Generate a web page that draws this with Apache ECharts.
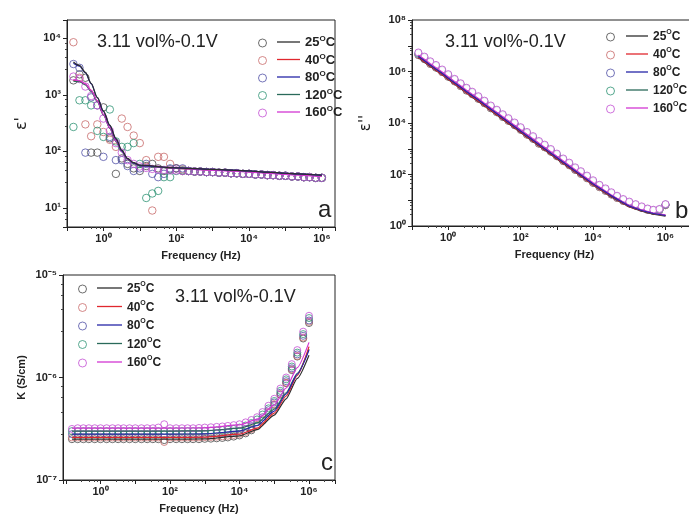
<!DOCTYPE html>
<html>
<head>
<meta charset="utf-8">
<script src="https://cdn.jsdelivr.net/npm/echarts@6/dist/echarts.min.js"></script>
<style>html,body{margin:0;padding:0;background:#fff}#c{width:689px;height:517px}</style>
</head>
<body>
<div id="c"></div>
<script>
// ---------- data ----------
const temps = ['25', '40', '80', '120', '160'];
const freq = [0.15,0.22,0.32,0.46,0.68,1,1.5,2.2,3.2,4.6,6.8,10,15,22,32,46,68,100,150,220,320,460,680,
  1e3,1.5e3,2.2e3,3.2e3,4.6e3,6.8e3,1e4,1.5e4,2.2e4,3.2e4,4.6e4,6.8e4,1e5,1.5e5,2.2e5,3.2e5,4.6e5,6.8e5,1e6];
const fitFreq = [0.15,0.22,0.32,0.46,0.68,1,1.5,2.2,3.2,4.6,6.8,10,100,1e3,1e4,3.2e4,1e5,2.2e5,4.6e5,1e6];

// panel a: real permittivity (points)
const epsR25  = [1800,2300,2000,95,95,600,170,40,75,60,50,45,55,60,50,45,48,50,45,45,44,44,43,43,42,42,41,41,40,40,39,39,38,38,37,37,36,36,35,35,34,34];
const epsR40  = [8500,2000,300,185,300,220,160,120,380,270,190,140,70,9,80,80,60,50,48,45,44,44,43,43,42,42,41,41,40,40,39,39,38,38,37,37,36,36,35,35,34,34];
const epsR80  = [3500,3000,95,900,650,80,180,70,70,55,45,50,60,40,35,40,50,50,50,45,44,44,43,43,42,42,41,41,40,40,39,39,38,38,37,37,36,36,35,35,34,34];
const epsR120 = [270,800,800,650,230,180,550,150,120,120,140,60,15,18,20,35,35,45,46,45,44,44,43,43,42,42,41,41,40,40,39,39,38,38,37,37,36,36,35,35,34,34];
const epsR160 = [2100,1900,1400,950,650,380,230,140,95,70,60,54,51,49,48,47,46,46,45,45,44,44,43,43,42,42,41,41,40,40,39,39,38,38,37,37,36,36,35,35,34,34];
// panel a: fits
const epsRFit25  = [3800,3300,2500,1600,900,520,290,170,105,75,63,57,51,48,45,43,41,40,39,38];
const epsRFit40  = [1800,1750,1550,1200,780,450,260,155,100,73,62,56,50,47,44,42,40,39,38,37];
const epsRFit80  = [3600,3200,2450,1580,890,510,285,165,102,74,62,56,51,48,45,43,41,40,39,38];
const epsRFit120 = [1750,1700,1500,1150,760,440,255,150,98,72,61,55,50,47,44,42,40,39,38,37];
const epsRFit160 = [1850,1780,1560,1200,780,450,260,155,100,73,62,56,50,46,43,41,39,38,37,36];

// panel b: imaginary permittivity (points)
const epsI25  = [4.3e6,3.0e6,1.95e6,1.4e6,9.4e5,6.2e5,4.1e5,2.7e5,1.8e5,1.3e5,8.6e4,5.8e4,3.7e4,2.6e4,1.7e4,1.2e4,8.2e3,5.4e3,3.5e3,2.4e3,1.56e3,1.13e3,760,510,330,226,150,105,71,47,32,23,16.5,12.2,9.3,7.5,6.1,5.0,4.2,3.8,4.1,6.4];
const epsI40  = [4.5e6,3.1e6,2.0e6,1.46e6,9.7e5,6.4e5,4.2e5,2.8e5,1.9e5,1.34e5,8.9e4,6.0e4,3.9e4,2.7e4,1.8e4,1.25e4,8.5e3,5.6e3,3.6e3,2.5e3,1.62e3,1.17e3,790,530,340,235,155,110,74,49,33,24,17,12.5,9.5,7.6,6.2,5.1,4.3,3.9,4.2,6.5];
const epsI80  = [4.8e6,3.3e6,2.2e6,1.58e6,1.05e6,6.9e5,4.55e5,3.06e5,2.06e5,1.44e5,9.6e4,6.5e4,4.2e4,2.9e4,1.92e4,1.36e4,9.2e3,6.0e3,3.9e3,2.7e3,1.75e3,1.27e3,860,570,370,254,166,118,80,53,35,25.5,18,13.3,10,8,6.5,5.3,4.4,4.0,4.3,6.7];
const epsI120 = [5.2e6,3.6e6,2.35e6,1.7e6,1.13e6,7.4e5,4.9e5,3.3e5,2.2e5,1.55e5,1.03e5,7.0e4,4.5e4,3.1e4,2.07e4,1.46e4,9.9e3,6.5e3,4.2e3,2.9e3,1.88e3,1.36e3,920,610,395,273,179,127,86,56,38,27,19.3,14.2,10.6,8.4,6.8,5.5,4.6,4.1,4.4,6.9];
const epsI160 = [5.5e6,3.8e6,2.5e6,1.8e6,1.2e6,7.9e5,5.2e5,3.5e5,2.35e5,1.65e5,1.1e5,7.4e4,4.8e4,3.3e4,2.2e4,1.55e4,1.05e4,6.9e3,4.5e3,3.1e3,2.0e3,1.45e3,980,650,420,290,190,135,91,60,40,29,20.5,15,11.2,8.9,7.1,5.8,4.8,4.3,4.6,7.1];
// panel b: fits
const epsIFit25  = [3.4e6,2.3e6,1.56e6,1.1e6,7.4e5,4.9e5,3.2e5,2.2e5,1.45e5,1.0e5,6.9e4,4.6e4,4.3e3,400,39,13.5,5.5,3.8,2.9,2.4];
const epsIFit40  = [3.6e6,2.4e6,1.62e6,1.13e6,7.7e5,5.1e5,3.3e5,2.3e5,1.5e5,1.05e5,7.2e4,4.8e4,4.5e3,415,40,14,5.6,3.9,3.0,2.5];
const epsIFit80  = [3.85e6,2.6e6,1.75e6,1.22e6,8.3e5,5.5e5,3.6e5,2.45e5,1.63e5,1.14e5,7.8e4,5.2e4,4.8e3,450,43,14.8,5.9,4.0,3.05,2.55];
const epsIFit120 = [4.1e6,2.8e6,1.88e6,1.32e6,8.9e5,5.9e5,3.85e5,2.6e5,1.75e5,1.22e5,8.4e4,5.5e4,5.2e3,480,45,15.4,6.1,4.1,3.1,2.6];
const epsIFit160 = [4.4e6,3.0e6,2.0e6,1.4e6,9.5e5,6.3e5,4.1e5,2.8e5,1.86e5,1.3e5,8.9e4,5.9e4,5.5e3,510,48,16,6.3,4.2,3.2,2.7];

// panel c: conductivity (S/cm) points
const sig25  = [2.5e-7,2.5e-7,2.5e-7,2.5e-7,2.5e-7,2.5e-7,2.5e-7,2.5e-7,2.5e-7,2.5e-7,2.5e-7,2.5e-7,2.5e-7,2.5e-7,2.5e-7,2.5e-7,2.45e-7,2.5e-7,2.5e-7,2.5e-7,2.5e-7,2.5e-7,2.5e-7,
  2.52e-7,2.53e-7,2.55e-7,2.57e-7,2.6e-7,2.65e-7,2.72e-7,2.85e-7,3.05e-7,3.35e-7,3.8e-7,4.5e-7,5.4e-7,6.8e-7,8.8e-7,1.18e-6,1.6e-6,2.4e-6,3.4e-6];
const sig40  = [2.6e-7,2.6e-7,2.6e-7,2.6e-7,2.6e-7,2.6e-7,2.6e-7,2.6e-7,2.6e-7,2.6e-7,2.6e-7,2.6e-7,2.6e-7,2.6e-7,2.6e-7,2.6e-7,2.35e-7,2.6e-7,2.6e-7,2.6e-7,2.6e-7,2.6e-7,2.6e-7,
  2.62e-7,2.63e-7,2.65e-7,2.67e-7,2.7e-7,2.75e-7,2.82e-7,2.95e-7,3.15e-7,3.45e-7,3.9e-7,4.6e-7,5.5e-7,6.9e-7,8.9e-7,1.2e-6,1.62e-6,2.45e-6,3.5e-6];
const sig80  = [2.8e-7,2.8e-7,2.8e-7,2.8e-7,2.8e-7,2.8e-7,2.8e-7,2.8e-7,2.8e-7,2.8e-7,2.8e-7,2.8e-7,2.8e-7,2.8e-7,2.8e-7,2.8e-7,2.8e-7,2.8e-7,2.8e-7,2.8e-7,2.8e-7,2.8e-7,2.8e-7,
  2.82e-7,2.83e-7,2.85e-7,2.87e-7,2.9e-7,2.95e-7,3.02e-7,3.15e-7,3.35e-7,3.65e-7,4.1e-7,4.8e-7,5.7e-7,7.1e-7,9.2e-7,1.23e-6,1.68e-6,2.55e-6,3.6e-6];
const sig120 = [3.0e-7,3.0e-7,3.0e-7,3.0e-7,3.0e-7,3.0e-7,3.0e-7,3.0e-7,3.0e-7,3.0e-7,3.0e-7,3.0e-7,3.0e-7,3.0e-7,3.0e-7,3.0e-7,3.0e-7,3.0e-7,3.0e-7,3.0e-7,3.0e-7,3.0e-7,3.0e-7,
  3.02e-7,3.03e-7,3.05e-7,3.07e-7,3.1e-7,3.15e-7,3.25e-7,3.4e-7,3.6e-7,3.9e-7,4.35e-7,5.0e-7,5.9e-7,7.4e-7,9.6e-7,1.28e-6,1.75e-6,2.65e-6,3.8e-6];
const sig160 = [3.15e-7,3.2e-7,3.2e-7,3.2e-7,3.2e-7,3.2e-7,3.2e-7,3.2e-7,3.2e-7,3.2e-7,3.2e-7,3.2e-7,3.2e-7,3.2e-7,3.2e-7,3.25e-7,3.5e-7,3.2e-7,3.2e-7,3.2e-7,3.2e-7,3.2e-7,3.22e-7,
  3.25e-7,3.27e-7,3.3e-7,3.33e-7,3.37e-7,3.43e-7,3.5e-7,3.65e-7,3.85e-7,4.1e-7,4.6e-7,5.3e-7,6.2e-7,7.8e-7,1.0e-6,1.35e-6,1.85e-6,2.8e-6,4.0e-6];
// panel c: fits
const sigFit25  = [2.5e-7,2.5e-7,2.5e-7,2.5e-7,2.5e-7,2.5e-7,2.5e-7,2.5e-7,2.5e-7,2.5e-7,2.5e-7,2.5e-7,2.5e-7,2.52e-7,2.7e-7,3.1e-7,4.3e-7,6.2e-7,9.8e-7,1.65e-6];
const sigFit40  = [2.6e-7,2.6e-7,2.6e-7,2.6e-7,2.6e-7,2.6e-7,2.6e-7,2.6e-7,2.6e-7,2.6e-7,2.6e-7,2.6e-7,2.6e-7,2.62e-7,2.8e-7,3.2e-7,4.5e-7,6.6e-7,1.05e-6,2.0e-6];
const sigFit80  = [2.8e-7,2.8e-7,2.8e-7,2.8e-7,2.8e-7,2.8e-7,2.8e-7,2.8e-7,2.8e-7,2.8e-7,2.8e-7,2.8e-7,2.8e-7,2.82e-7,3.0e-7,3.4e-7,4.7e-7,6.9e-7,1.08e-6,1.85e-6];
const sigFit120 = [3.0e-7,3.0e-7,3.0e-7,3.0e-7,3.0e-7,3.0e-7,3.0e-7,3.0e-7,3.0e-7,3.0e-7,3.0e-7,3.0e-7,3.0e-7,3.02e-7,3.2e-7,3.6e-7,4.9e-7,7.1e-7,1.1e-6,1.9e-6];
const sigFit160 = [3.2e-7,3.2e-7,3.2e-7,3.2e-7,3.2e-7,3.2e-7,3.2e-7,3.2e-7,3.2e-7,3.2e-7,3.2e-7,3.2e-7,3.2e-7,3.23e-7,3.45e-7,3.9e-7,5.4e-7,7.9e-7,1.25e-6,2.2e-6];

const sampleLabel = '3.11 vol%-0.1V';

// ---------- styling ----------
const circleColor = {'25':'#4a4a4a','40':'#c86a6a','80':'#5252a8','120':'#2e9474','160':'#c450d4'};
const lineColor   = {'25':'#2e2e2e','40':'#e0282e','80':'#2626a8','120':'#2a6a5a','160':'#d236d2'};
const FONT = 'Liberation Sans, Arial, sans-serif';
const SUP = {'0':'\u2070','1':'\u00b9','2':'\u00b2','3':'\u00b3','4':'\u2074','5':'\u2075','6':'\u2076','7':'\u2077','8':'\u2078','9':'\u2079','-':'\u207b'};
function powLabel(v, evenOnly) {
  const l = Math.log10(v), e = Math.round(l);
  if (Math.abs(l - e) > 1e-6) return '';
  if (evenOnly && e % 2 !== 0) return '';
  return '10' + String(e).split('').map(c => SUP[c]).join('');
}

const pts = {a:{'25':epsR25,'40':epsR40,'80':epsR80,'120':epsR120,'160':epsR160},
             b:{'25':epsI25,'40':epsI40,'80':epsI80,'120':epsI120,'160':epsI160},
             c:{'25':sig25,'40':sig40,'80':sig80,'120':sig120,'160':sig160}};
const fits = {a:{'25':epsRFit25,'40':epsRFit40,'80':epsRFit80,'120':epsRFit120,'160':epsRFit160},
              b:{'25':epsIFit25,'40':epsIFit40,'80':epsIFit80,'120':epsIFit120,'160':epsIFit160},
              c:{'25':sigFit25,'40':sigFit40,'80':sigFit80,'120':sigFit120,'160':sigFit160}};
const lineOrder = {a:['40','120','160','80','25'], b:['25','40','120','160','80'], c:['25','120','40','160','80']};
const smoothBy = {a:0.3, b:0, c:0.2};

const series = [];
['a','b','c'].forEach((p, gi) => {
  temps.forEach(t => {
    series.push({
      type:'scatter', name:'pts'+t, xAxisIndex:gi, yAxisIndex:gi, silent:true,
      data: freq.map((f,i) => [f, pts[p][t][i]]),
      symbol:'circle', symbolSize: p === 'a' ? 7.5 : 7,
      itemStyle:{color: p === 'b' ? '#ffffff' : 'rgba(255,255,255,0)', borderColor:circleColor[t], borderWidth:1},
      z: 2
    });
  });
  lineOrder[p].forEach(t => {
    series.push({
      type:'line', name:t, xAxisIndex:gi, yAxisIndex:gi, silent:true,
      data: fitFreq.map((f,i) => [f, fits[p][t][i]]),
      showSymbol:false, symbol:'none', smooth:smoothBy[p], smoothMonotone:'x',
      lineStyle:{color:lineColor[t], width:1.2}, itemStyle:{color:lineColor[t]},
      z: 4
    });
  });
});

function xAxisCfg(gi, min, max, split) {
  return {
    type:'log', gridIndex:gi, min:min, max:max, splitNumber:split,
    name:'Frequency (Hz)', nameLocation:'middle', nameGap:23,
    nameTextStyle:{fontFamily:FONT, fontWeight:'bold', fontSize:11, color:'#222'},
    axisLine:{show:true, lineStyle:{color:'#222', width:1}},
    axisTick:{show:true, length:4, lineStyle:{color:'#222'}},
    minorTick:{show:true, splitNumber:5, length:2, lineStyle:{color:'#444'}},
    splitLine:{show:false},
    axisLabel:{formatter: v => powLabel(v, true), fontFamily:FONT, fontWeight:'bold', fontSize:11, color:'#222', margin:6}
  };
}
function yAxisCfg(gi, min, max, split, evenOnly, name, nameSize, nameGap, nameBold) {
  return {
    type:'log', gridIndex:gi, min:min, max:max, splitNumber:split,
    name:name, nameLocation:'middle', nameGap:nameGap, nameRotate:90,
    nameTextStyle:{fontFamily: nameBold ? FONT : 'DejaVu Sans, sans-serif', fontWeight: nameBold ? 'bold' : 'normal', fontSize:nameSize, color:'#222'},
    axisLine:{show:true, lineStyle:{color:'#222', width:1}},
    axisTick:{show:true, length:4, lineStyle:{color:'#222'}},
    minorTick:{show:true, splitNumber:5, length:2, lineStyle:{color:'#444'}},
    splitLine:{show:false},
    axisLabel:{formatter: v => powLabel(v, evenOnly), fontFamily:FONT, fontWeight:'bold', fontSize:11, color:'#222', margin:6}
  };
}

// two stacked legends per panel: hollow circles (points) and short lines (fits) with labels
function richText(size) {
  return {rich:{
    t:{fontFamily:FONT, fontWeight:'bold', fontSize:size, color:'#222', lineHeight:14, verticalAlign:'bottom'},
    s:{fontFamily:FONT, fontWeight:'bold', fontSize:Math.round(size*0.62), color:'#222', lineHeight:14, verticalAlign:'top'}
  }};
}
function circleLegend(left, top, gap) {
  return {
    orient:'vertical', left:left, top:top, itemGap:gap, itemWidth:8, itemHeight:8,
    icon:'circle', data:temps.map(t => 'pts'+t), selectedMode:false,
    itemStyle:{borderWidth:1},
    formatter: () => '{t| }', textStyle:richText(12)
  };
}
function lineLegend(left, top, gap, width, size) {
  return {
    orient:'vertical', left:left, top:top, itemGap:gap, itemWidth:width, itemHeight:1.3,
    icon:'rect', data:temps, selectedMode:false,
    itemStyle:{borderWidth:0},
    formatter: n => '{t|' + n + '}{s|O}{t|C}', textStyle:richText(size)
  };
}

function txt(x, y, s, size) {
  return {type:'text', x:x, y:y, z:100, silent:true,
    style:{text:s, font: size + 'px ' + FONT, fill:'#222', textAlign:'left', textVerticalAlign:'middle', align:'left', verticalAlign:'middle'}};
}

const gridBase = {show:true, borderColor:'#222', borderWidth:1, containLabel:false, outerBoundsMode:'none'};
const option = {
  animation:false,
  backgroundColor:'#fff',
  grid:[
    Object.assign({left:67, top:20, width:268, height:207}, gridBase),
    Object.assign({left:412, top:20, width:285, height:206}, gridBase),
    Object.assign({left:63, top:275, width:272, height:205}, gridBase)
  ],
  xAxis:[
    xAxisCfg(0, 0.1, 2.3e6, 7),
    xAxisCfg(1, 0.1, 7.4e6, 8),
    xAxisCfg(2, 0.083, 5.6e6, 8)
  ],
  yAxis:[
    yAxisCfg(0, 4.6, 2.1e4, 4, false, "\u03b5'", 16, 37, false),
    yAxisCfg(1, 1, 1e8, 8, true, "\u03b5''", 15, 38, false),
    yAxisCfg(2, 1e-7, 1e-5, 2, false, 'K (S/cm)', 11, 36, true)
  ],
  legend:[
    circleLegend(253, 33, 5.5),
    lineLegend(272, 30, 3.5, 23, 13),
    circleLegend(601, 27, 6),
    lineLegend(621, 24, 4, 22, 12),
    circleLegend(73, 279, 6.5),
    lineLegend(92, 276, 4.5, 25, 12)
  ],
  graphic:[
    txt(97, 42, sampleLabel, 18),
    txt(445, 42, sampleLabel, 18),
    txt(175, 297, sampleLabel, 18),
    txt(318, 210, 'a', 24),
    txt(675, 211, 'b', 24),
    txt(321, 463, 'c', 24)
  ],
  series: series
};

const chart = echarts.init(document.getElementById('c'), null, {renderer:'canvas'});
chart.setOption(option);
</script>
</body>
</html>
